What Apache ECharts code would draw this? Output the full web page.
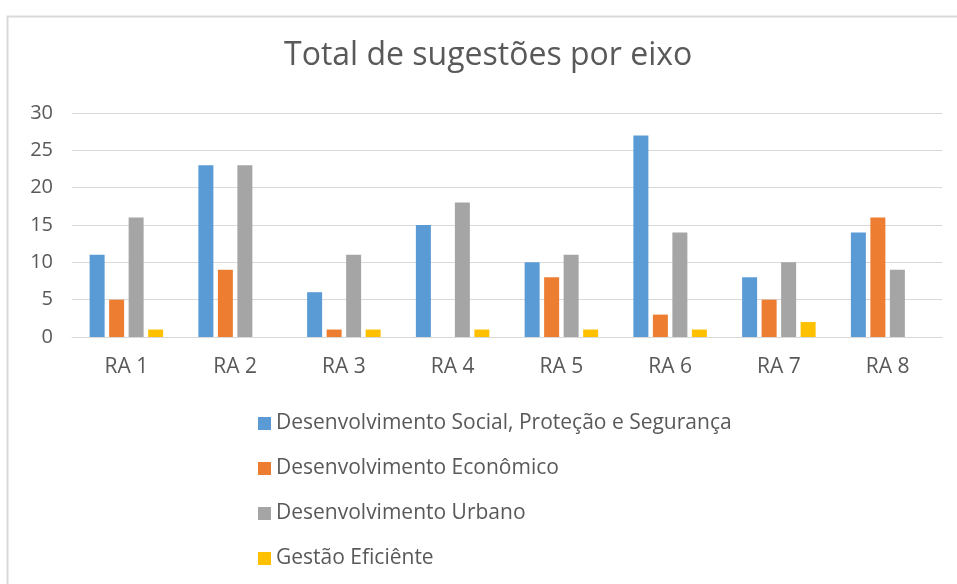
<!DOCTYPE html>
<html>
<head>
<meta charset="utf-8">
<script src="https://cdn.jsdelivr.net/npm/echarts@6/dist/echarts.min.js"></script>
<style>
  html, body { margin: 0; padding: 0; background: #fff; }
  #chart { width: 957px; height: 584px; }
</style>
</head>
<body>
<div id="chart"></div>
<script>
// Dados do gráfico
const categorias = ['RA 1', 'RA 2', 'RA 3', 'RA 4', 'RA 5', 'RA 6', 'RA 7', 'RA 8'];
const social = [11, 23, 6, 15, 10, 27, 8, 14];
const economico = [5, 9, 1, 0, 8, 3, 5, 16];
const urbano = [16, 23, 11, 18, 11, 14, 10, 9];
const gestao = [1, 0, 1, 1, 1, 1, 2, 0];
const nomesSeries = [
    'Desenvolvimento Social, Proteção e Segurança',
    'Desenvolvimento Econômico',
    'Desenvolvimento Urbano',
    'Gestão Eficiênte'
];
const cores = ['#5b9bd5', '#ed7d31', '#a5a5a5', '#ffc000'];

const fonte = '"Open Sans", "Noto Sans", sans-serif';
const chart = echarts.init(document.getElementById('chart'));

function serie(nome, dados, cor) {
    return {
        name: nome,
        type: 'bar',
        data: dados,
        barWidth: 15,
        barGap: '30%',
        itemStyle: { color: cor },
        emphasis: { disabled: true }
    };
}

const option = {
    animation: false,
    color: cores,
    title: {
        text: 'Total de sugestões por eixo',
        left: 284,
        top: 40,
        padding: 0,
        textStyle: {
            color: '#595959',
            fontFamily: fonte,
            fontWeight: 'normal',
            fontSize: 32
        }
    },
    grid: {
        left: 72,
        right: 15,
        top: 113,
        height: 224,
        containLabel: false
    },
    legend: {
        orient: 'vertical',
        left: 258,
        top: 413,
        padding: 0,
        itemWidth: 13,
        itemHeight: 13,
        itemGap: 24,
        icon: 'rect',
        data: nomesSeries,
        textStyle: {
            color: '#595959',
            fontFamily: fonte,
            fontSize: 21
        }
    },
    xAxis: {
        type: 'category',
        data: categorias,
        axisLine: { lineStyle: { color: '#d9d9d9', width: 1 } },
        axisTick: { show: false },
        axisLabel: {
            color: '#595959',
            fontFamily: fonte,
            fontSize: 21,
            margin: 20
        }
    },
    yAxis: {
        type: 'value',
        min: 0,
        max: 30,
        interval: 5,
        axisLine: { show: false },
        axisTick: { show: false },
        splitLine: { lineStyle: { color: '#d9d9d9', width: 1 } },
        axisLabel: {
            color: '#595959',
            fontFamily: fonte,
            fontSize: 20,
            margin: 19
        }
    },
    graphic: [{
        type: 'rect',
        left: 5,
        top: 14,
        shape: { width: 990, height: 620 },
        style: { fill: 'none', stroke: '#d9d9d9', lineWidth: 2 },
        silent: true,
        z: -10
    }],
    series: [
        serie(nomesSeries[0], social, cores[0]),
        serie(nomesSeries[1], economico, cores[1]),
        serie(nomesSeries[2], urbano, cores[2]),
        serie(nomesSeries[3], gestao, cores[3])
    ]
};

chart.setOption(option);
</script>
</body>
</html>
